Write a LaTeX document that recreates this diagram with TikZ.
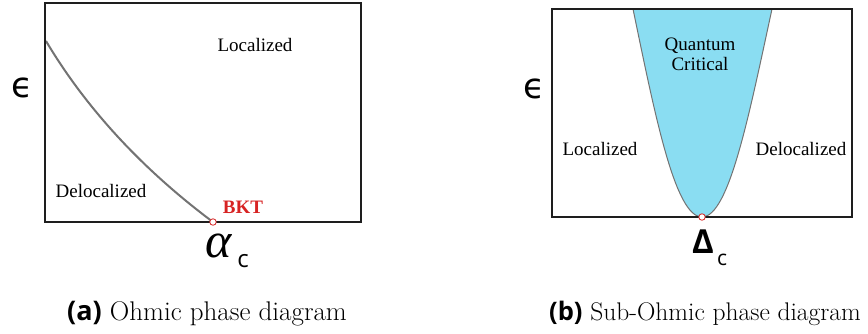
\documentclass[tikz,border=0pt]{standalone}
\usepackage{fontspec}
\newfontfamily\tnr{Liberation Serif}
\newfontfamily\osans{Open Sans}
\newfontfamily\dvs{DejaVu Sans}
\definecolor{boxline}{RGB}{30,30,30}
\definecolor{curvegray}{RGB}{115,115,115}
\definecolor{qcblue}{RGB}{138,221,242}
\definecolor{bktred}{RGB}{215,35,35}
\tikzset{
  lbl/.style={inner sep=0pt, anchor=base, font=\tnr\fontsize{19}{22}\selectfont},
  axislbl/.style={inner sep=0pt, anchor=center},
  boxframe/.style={draw=boxline, line width=1.8pt},
  critpt/.style={circle, draw=bktred, fill=white, line width=0.8pt, minimum size=6.5pt, inner sep=0pt},
  captext/.style={inner sep=0pt, anchor=base}
}
\begin{document}
\begin{tikzpicture}[x=1pt,y=-1pt]
\useasboundingbox (0,0) rectangle (868,333);
% ---------- (a) ----------
\coordinate (a1) at (46,41);
\coordinate (a2) at (213,222);
\draw[curvegray, line width=2pt] (a1) .. controls (90,115) and (150,175) .. (a2);
\draw[boxframe] (45,3) rectangle (361,222);
\node[critpt] (bkt) at (a2) {};
\node[lbl] (loca) at (255,51) {Localized};
\node[lbl] (deloca) at (101,197) {Delocalized};
\node[lbl, font=\tnr\bfseries\fontsize{19}{22}\selectfont, text=bktred] (bktl) at (243,213) {BKT};
\node[axislbl, font=\dvs\fontsize{35}{38}\selectfont] (epsa) at (22,88) {ϵ};
\node[axislbl, font=\tnr\itshape\fontsize{50}{56}\selectfont] (alpha) at (219,246) {α};
\node[axislbl, font=\osans\fontsize{24}{28}\selectfont] (ca) at (243,261) {c};
\node[captext, font=\fontsize{27}{32}\selectfont] (capa) at (207,320) {{\osans\bfseries (a)} Ohmic phase diagram};
% ---------- (b) ----------
\coordinate (bl) at (633,9);
\coordinate (bm) at (702,217);
\coordinate (br) at (772,9);
\fill[qcblue] (bl) .. controls (655,115) and (675,217) .. (bm)
  .. controls (729,217) and (749,115) .. (br) -- cycle;
\draw[curvegray, line width=1pt] (bl) .. controls (655,115) and (675,217) .. (bm)
  .. controls (729,217) and (749,115) .. (br);
\draw[boxframe] (552,9) rectangle (852,217);
\node[critpt] (qcp) at (bm) {};
\node[lbl] (quant) at (700,50) {Quantum};
\node[lbl] (critl) at (700,70) {Critical};
\node[lbl] (locb) at (600,155) {Localized};
\node[lbl] (delocb) at (801,155) {Delocalized};
\node[axislbl, font=\dvs\fontsize{35}{38}\selectfont] (epsb) at (534,89) {ϵ};
\node[axislbl, font=\osans\bfseries\fontsize{33}{36}\selectfont] (delta) at (703,242) {Δ};
\node[axislbl, font=\osans\fontsize{21}{24}\selectfont] (cb) at (722,260) {c};
\node[captext, font=\fontsize{25.5}{30}\selectfont] (capb) at (705,320) {{\osans\bfseries (b)} Sub-Ohmic phase diagram};
\end{tikzpicture}
\end{document}
